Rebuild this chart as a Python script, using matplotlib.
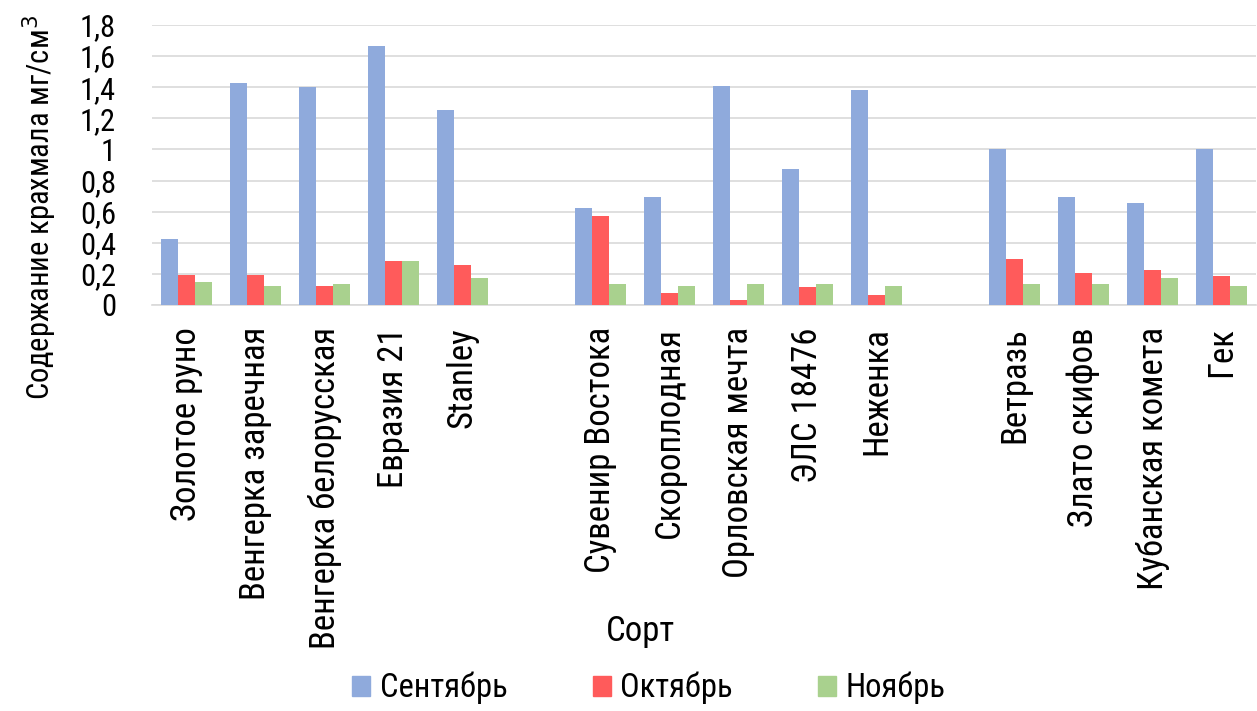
import matplotlib
matplotlib.use("Agg")
import matplotlib.pyplot as plt
from matplotlib import font_manager
from matplotlib.patches import Patch
import numpy as np

# narrow font close to Arial Narrow, first one that is installed
names = {f.name for f in font_manager.fontManager.ttflist}
narrow = "DejaVu Sans"
for cand in ["Liberation Sans Narrow", "Roboto Condensed", "Fira Sans Condensed",
             "IBM Plex Sans Condensed", "Archivo Narrow", "DejaVu Sans"]:
    if cand in names:
        narrow = cand
        break
plt.rcParams["font.family"] = [narrow, "DejaVu Sans"]

# data
sorts = [
    "Золотое руно", "Венгерка заречная", "Венгерка белорусская", "Евразия 21", "Stanley",
    "Сувенир Востока", "Скороплодная", "Орловская мечта", "ЭЛС 18476", "Неженка",
    "Ветразь", "Злато скифов", "Кубанская комета", "Гек",
]
group_sizes = [5, 5, 4]
september = [0.425, 1.43, 1.40, 1.667, 1.255,
             0.624, 0.695, 1.41, 0.876, 1.384,
             1.004, 0.695, 0.657, 1.004]
october = [0.193, 0.193, 0.122, 0.283, 0.258,
           0.573, 0.077, 0.032, 0.116, 0.064,
           0.296, 0.206, 0.225, 0.187]
november = [0.148, 0.122, 0.135, 0.283, 0.174,
            0.135, 0.122, 0.135, 0.135, 0.122,
            0.135, 0.135, 0.174, 0.122]
series = ["Сентябрь", "Октябрь", "Ноябрь"]
colors = ["#8FAADC", "#FF5B5B", "#A9D18E"]
yticks = [0, 0.2, 0.4, 0.6, 0.8, 1.0, 1.2, 1.4, 1.6, 1.8]

# positions with one empty slot between groups
pos = []
start = 0
for n in group_sizes:
    pos += list(range(start, start + n))
    start += n + 1
pos = np.array(pos, dtype=float)
n_slots = start - 1

fig = plt.figure(figsize=(12.57, 7.11), dpi=100)
ax = fig.add_axes([152 / 1257, 1 - 305 / 711, 1104 / 1257, 280 / 711])

w = 0.246
for i, (vals, name, c) in enumerate(zip([september, october, november], series, colors)):
    ax.bar(pos + (i - 1) * w, vals, width=w, color=c, label=name, zorder=3)

ax.set_xlim(-0.5, n_slots - 0.5)
ax.set_ylim(0, 1.8)
ax.set_yticks(yticks)
ax.set_yticklabels([("%g" % t).replace(".", ",") for t in yticks], fontsize=22)
ax.set_xticks(pos)
ax.set_xticklabels(sorts, rotation=90, fontsize=25, va="top", ha="center")
ax.tick_params(axis="y", length=0, pad=26)
ax.tick_params(axis="x", length=0, pad=16)
ax.grid(axis="y", color="#d9d9d9", linewidth=1.2, zorder=0)
for s in ["top", "right", "left"]:
    ax.spines[s].set_visible(False)
ax.spines["bottom"].set_color("#d9d9d9")
ax.spines["bottom"].set_linewidth(1.2)

fig.text(40 / 1257, 1 - 208 / 711, "Содержание крахмала мг/см$^3$", rotation=90,
         fontsize=22, ha="center", va="center")
fig.text(640 / 1257, 1 - 632 / 711, "Сорт", fontsize=25, ha="center", va="center")

handles = [Patch(color=c, label=s) for c, s in zip(colors, series)]
fig.legend(handles=handles, loc="center", bbox_to_anchor=(649 / 1257, 1 - 688 / 711),
           ncol=3, frameon=False, fontsize=23.5, handlelength=0.55, handleheight=0.55,
           handletextpad=0.3, columnspacing=2.6)

fig.savefig("out.png", dpi=100)
